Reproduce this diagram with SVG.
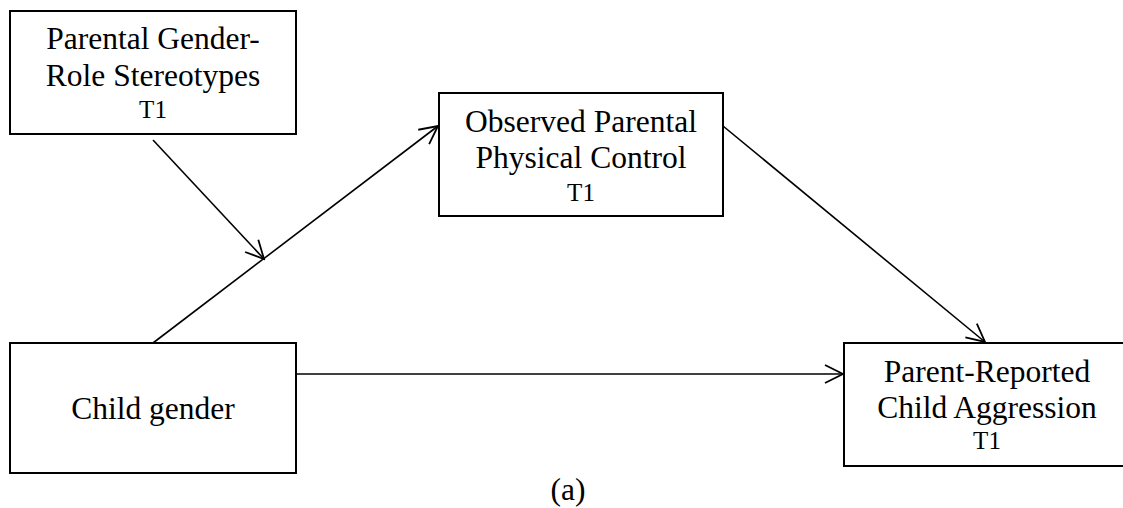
<svg xmlns="http://www.w3.org/2000/svg" width="1123" height="508" viewBox="0 0 1123 508">
<style>
.box{fill:#fff;stroke:#000;stroke-width:2}
.t{font-family:"Liberation Serif","Times New Roman",serif;font-size:31.5px;fill:#000;text-anchor:middle}
.s{font-family:"Liberation Serif","Times New Roman",serif;font-size:25px;fill:#000;text-anchor:middle}
.c{stroke:#000;stroke-width:1.6;fill:none;marker-end:url(#arr)}
</style>
<defs>
<marker id="arr" markerUnits="userSpaceOnUse" viewBox="-20 -11 22 22" refX="0" refY="0" markerWidth="22" markerHeight="22" orient="auto">
<path d="M-18,-9 L0,0 L-18,9" fill="none" stroke="#000" stroke-width="1.8"/>
</marker>
</defs>
<g id="connectors">
<line class="c" x1="153" y1="343" x2="438" y2="126"/>
<line class="c" x1="153" y1="140" x2="264" y2="259"/>
<line class="c" x1="723" y1="126" x2="985" y2="342"/>
<line class="c" x1="297" y1="374" x2="843" y2="374"/>
</g>
<g id="stereotypes">
<rect class="box" x="10" y="11" width="286" height="123"/>
<text class="t" x="153" y="49">Parental Gender-</text>
<text class="t" x="153" y="86">Role Stereotypes</text>
<text class="s" x="153" y="118">T1</text>
</g>
<g id="control">
<rect class="box" x="439" y="93" width="284" height="123"/>
<text class="t" x="581" y="132">Observed Parental</text>
<text class="t" x="581" y="168">Physical Control</text>
<text class="s" x="581" y="201">T1</text>
</g>
<g id="gender">
<rect class="box" x="10" y="343" width="286" height="130"/>
<text class="t" x="153" y="419">Child gender</text>
</g>
<g id="aggression">
<rect class="box" x="844" y="343" width="290" height="123"/>
<text class="t" x="987" y="382">Parent-Reported</text>
<text class="t" x="987" y="418">Child Aggression</text>
<text class="s" x="987" y="449">T1</text>
</g>
<text class="t" x="568" y="500">(a)</text>
</svg>
